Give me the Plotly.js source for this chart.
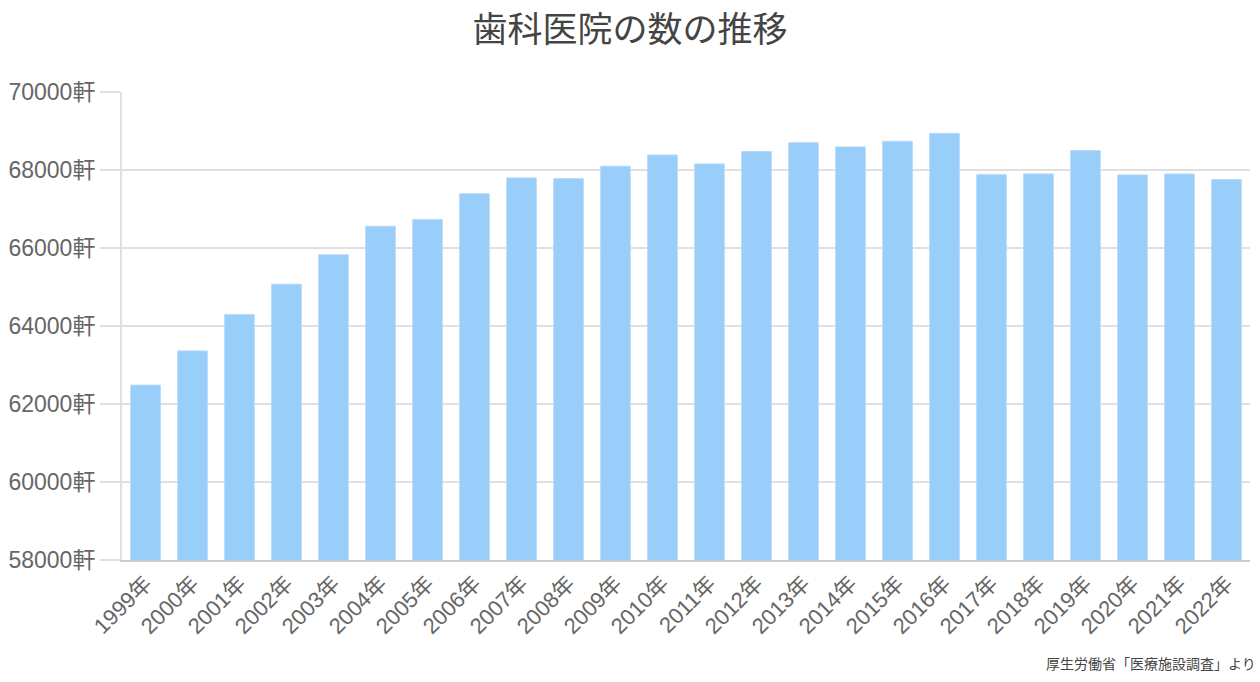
<!DOCTYPE html>
<html>
<head>
<meta charset="utf-8">
<script src="https://cdn.plot.ly/plotly-3.0.1.min.js"></script>
<style>
  html, body { margin: 0; padding: 0; background: #fff; }
  #chart { width: 1260px; height: 682px; }
</style>
</head>
<body>
<div id="chart"></div>
<script>
var years = ['1999年','2000年','2001年','2002年','2003年','2004年','2005年','2006年',
  '2007年','2008年','2009年','2010年','2011年','2012年','2013年','2014年','2015年',
  '2016年','2017年','2018年','2019年','2020年','2021年','2022年'];

var clinics = [62484, 63361, 64297, 65073, 65828, 66557, 66732, 67392,
  67798, 67779, 68097, 68384, 68156, 68474, 68701, 68592, 68737,
  68940, 67880, 67900, 68500, 67874, 67899, 67755];

var yTicks = [58000, 60000, 62000, 64000, 66000, 68000, 70000];
var yTickText = yTicks.map(function (v) { return v + '軒'; });

var font = 'Liberation Sans, Arial, Noto Sans CJK JP, sans-serif';

var bars = {
  x: years,
  y: clinics,
  type: 'bar',
  marker: {
    color: '#99cdfa',
    line: { color: '#b5dafb', width: 1 }
  },
  hoverinfo: 'x+y'
};

var lay = {
  width: 1260,
  height: 682,
  margin: { l: 122, r: 10, t: 92, b: 122, pad: 0 },
  paper_bgcolor: '#fff',
  plot_bgcolor: '#fff',
  bargap: 0.37,
  showlegend: false,
  font: { family: font, color: '#666', size: 22 },
  title: {
    text: '歯科医院の数の推移',
    font: { family: 'Noto Sans CJK JP, sans-serif', size: 35, color: '#444' },
    x: 0.5,
    xanchor: 'center',
    yref: 'container',
    y: 0.956,
    yanchor: 'middle'
  },
  xaxis: {
    type: 'category',
    tickangle: -45,
    tickfont: { family: font, size: 22, color: '#666' },
    showline: true,
    linecolor: '#ccc',
    linewidth: 2,
    ticks: '',
    showgrid: false,
    fixedrange: true
  },
  yaxis: {
    range: [58000, 70000],
    tickvals: yTicks,
    ticktext: yTickText,
    tickfont: { family: font, size: 23, color: '#666' },
    ticks: 'outside',
    ticklen: 20,
    tickcolor: '#e0e0e0',
    tickwidth: 2,
    showgrid: true,
    gridcolor: '#e0e0e0',
    gridwidth: 2,
    showline: true,
    linecolor: '#e0e0e0',
    linewidth: 2,
    zeroline: false,
    fixedrange: true
  },
  annotations: [{
    text: '厚生労働省「医療施設調査」より',
    xref: 'paper',
    yref: 'paper',
    x: 1.007,
    y: -0.22,
    xanchor: 'right',
    yanchor: 'middle',
    showarrow: false,
    font: { family: 'Noto Sans CJK JP, sans-serif', size: 14, color: '#444' }
  }]
};

Plotly.newPlot('chart', [bars], lay, { displayModeBar: false, staticPlot: true });
</script>
</body>
</html>
